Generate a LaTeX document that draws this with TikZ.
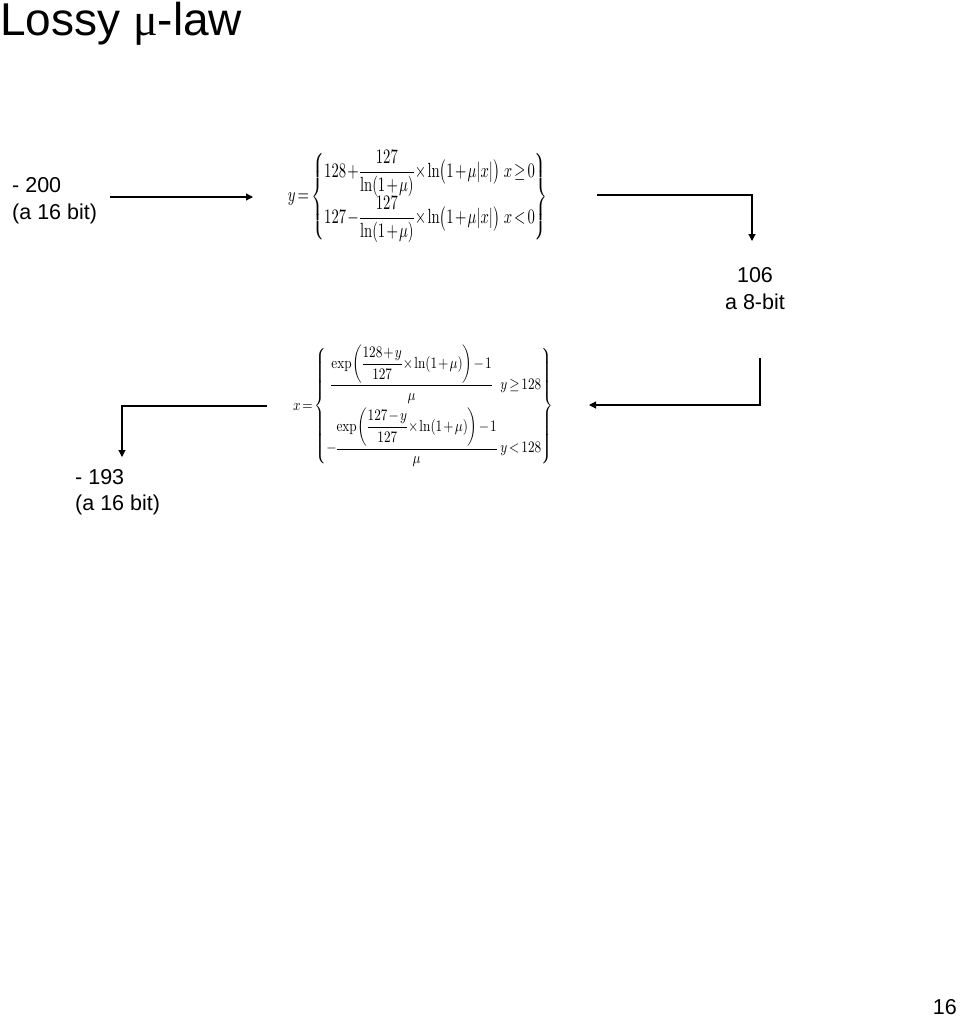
\documentclass[tikz,border=0pt]{standalone}
\usepackage{fontspec}
\usepackage{amsmath}
\usepackage{graphicx}
\newfontfamily\sansfont{Liberation Sans}
\newfontfamily\symfont{Liberation Serif}
\usetikzlibrary{arrows.meta}
\tikzset{
  lbl/.style={inner sep=0pt, font=\sansfont\fontsize{21.5}{26.5}\selectfont},
  conn/.style={line width=1.1pt, -{Triangle[width=7pt,length=7pt]}},
  formula/.style={inner sep=0pt}
}
\newcommand{\tightmath}{\medmuskip=1.5mu\thickmuskip=2.5mu\thinmuskip=1.5mu\nulldelimiterspace=0pt}
\begin{document}
\begin{tikzpicture}[x=1pt,y=-1pt]
\useasboundingbox (0,0) rectangle (960,1017);
% title
\node[inner sep=0pt, anchor=base west, font=\sansfont\fontsize{46}{52}\selectfont] (title) at (0,35) {Lossy {\symfont μ}-law};
% input
\node[lbl, anchor=base west, align=left] (in200) at (12,219) {- 200\\(a 16 bit)};
% formula y
\node[formula] (fy) at (418,196.5) {\resizebox*{260pt}{93pt}{\tightmath$y=\left\{\begin{array}{@{}l@{\;\;}l@{}}
128+\dfrac{127}{\ln(1+\mu)}\times\ln\bigl(1+\mu|x|\bigr) & x\ge 0\\[6pt]
127-\dfrac{127}{\ln(1+\mu)}\times\ln\bigl(1+\mu|x|\bigr) & x<0
\end{array}\right\}$}};
% 8-bit value
\node[lbl, anchor=base, align=center] (n106) at (755,309) {106\\a 8-bit};
% formula x
\node[formula] (fx) at (423,406) {\resizebox*{260pt}{122pt}{\tightmath$x=\left\{\begin{array}{@{}c@{\;\;}l@{}}
\dfrac{\exp\left(\dfrac{128+y}{127}\times\ln(1+\mu)\right)-1}{\mu} & y\ge 128\\[8pt]
-\dfrac{\exp\left(\dfrac{127-y}{127}\times\ln(1+\mu)\right)-1}{\mu} & y<128
\end{array}\right\}$}};
% output
\node[lbl, anchor=base west, align=left] (out193) at (75,510.5) {- 193\\(a 16 bit)};
% page number
\node[lbl, anchor=base east] (page) at (957,1014) {16};
% connector end points
\coordinate (a1s) at (110,197);
\coordinate (a1e) at (253,197);
\coordinate (a2s) at (597,195);
\coordinate (a2e) at (752,241);
\coordinate (a3s) at (760,358);
\coordinate (a3e) at (589,405);
\coordinate (a4s) at (267,406);
\coordinate (a4e) at (122,457);
\draw[conn] (a1s) -- (a1e);
\draw[conn] (a2s) -| (a2e);
\draw[conn] (a3s) |- (a3e);
\draw[conn] (a4s) -| (a4e);
\end{tikzpicture}
\end{document}
